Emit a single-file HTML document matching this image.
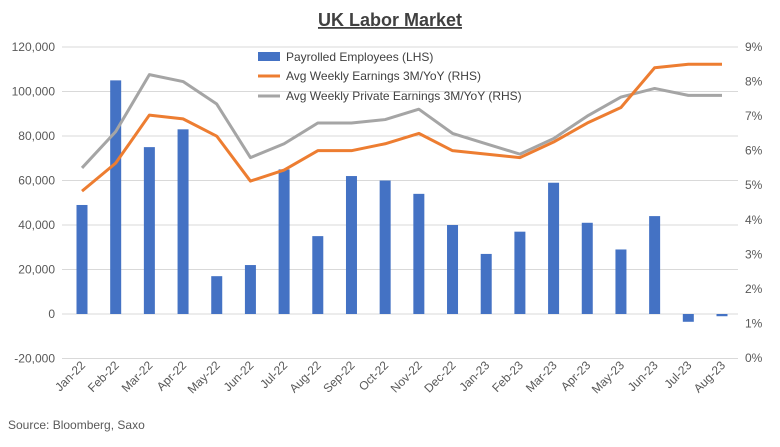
<!DOCTYPE html>
<html><head><meta charset="utf-8"><style>
body{margin:0;background:#fff;font-family:"Liberation Sans",sans-serif;}
svg text{font-family:"Liberation Sans",sans-serif;}
</style></head><body>
<svg id="chart" width="780" height="442" xmlns="http://www.w3.org/2000/svg">
<text x="390" y="26" text-anchor="middle" font-size="18" font-weight="bold" fill="#404040" text-decoration="underline">UK Labor Market</text>
<g id="grid"></g><g id="bars"></g><g id="lines"></g><g id="axes"></g>
<g>
<rect x="258" y="52" width="22" height="9" fill="#4472C4"/>
<text x="286" y="61" font-size="12" fill="#404040">Payrolled Employees (LHS)</text>
<line x1="258" y1="76" x2="280" y2="76" stroke="#ED7D31" stroke-width="3"/>
<text x="286" y="80" font-size="12" fill="#404040">Avg Weekly Earnings 3M/YoY (RHS)</text>
<line x1="258" y1="96" x2="280" y2="96" stroke="#A5A5A5" stroke-width="3"/>
<text x="286" y="100" font-size="12" fill="#404040">Avg Weekly Private Earnings 3M/YoY (RHS)</text>
</g>
<text x="8" y="429" font-size="12" fill="#595959">Source: Bloomberg, Saxo</text>
</svg>
<script>
const categories=["Jan-22","Feb-22","Mar-22","Apr-22","May-22","Jun-22","Jul-22","Aug-22","Sep-22","Oct-22","Nov-22","Dec-22","Jan-23","Feb-23","Mar-23","Apr-23","May-23","Jun-23","Jul-23","Aug-23"];
const payrolled=[49000,105000,75000,83000,17000,22000,65000,35000,62000,60000,54000,40000,27000,37000,59000,41000,29000,44000,-3500,-1000];
const earnings=[4.83,5.64,7.03,6.92,6.42,5.12,5.44,6.0,6.0,6.2,6.5,6.0,5.9,5.8,6.25,6.8,7.25,8.4,8.5,8.5];
const privateEarnings=[5.5,6.55,8.2,8.0,7.35,5.8,6.2,6.8,6.8,6.9,7.2,6.5,6.2,5.9,6.35,7.0,7.55,7.8,7.6,7.6];
const leftTicks=[-20000,0,20000,40000,60000,80000,100000,120000];
const rightTicks=[0,1,2,3,4,5,6,7,8,9];
const NS="http://www.w3.org/2000/svg";
const plotTop=47,plotBot=358,x0=82,x1=722;
const yL=v=>314-(v/20000)*44.5;
const yR=v=>plotBot-(v/9)*(plotBot-plotTop);
const xC=i=>x0+i*(x1-x0)/(categories.length-1);
function mk(t,a,p){const e=document.createElementNS(NS,t);for(const k in a)e.setAttribute(k,a[k]);document.getElementById(p).appendChild(e);return e;}
leftTicks.forEach(v=>{
 const g=mk("line",{x1:62,x2:738,y1:yL(v),y2:yL(v),stroke:"#D9D9D9","stroke-width":1},"grid");
 
 
 const t=mk("text",{x:55,y:yL(v)+4,"text-anchor":"end","font-size":12,fill:"#595959"},"axes");
 
 
 t.textContent=v.toLocaleString("en-US");
});
rightTicks.forEach(v=>{
 const t=mk("text",{x:745,y:yR(v)+4,"font-size":12,fill:"#595959"},"axes");
 
 
 t.textContent=v+"%";
});
payrolled.forEach((v,i)=>{
 const y=Math.min(yL(v),yL(0)),h=Math.abs(yL(v)-yL(0));
 const r=mk("rect",{x:xC(i)-5.5,y:y,width:11,height:Math.max(h,1),fill:"#4472C4"},"bars");
 
 
});
function line(arr,col,name){
 const p=mk("polyline",{points:arr.map((v,i)=>xC(i)+","+yR(v)).join(" "),fill:"none",stroke:col,"stroke-width":3,"stroke-linejoin":"round"},"lines");
 
 
}
line(privateEarnings,"#A5A5A5","private-earnings-line");
line(earnings,"#ED7D31","earnings-line");
categories.forEach((c,i)=>{
 const x=xC(i)+4,y=366;
 const t=mk("text",{x:x,y:y,"text-anchor":"end","font-size":12,fill:"#595959",transform:`rotate(-45 ${x} ${y})`},"axes");
 
 
 t.textContent=c;
});
</script>
</body></html>
